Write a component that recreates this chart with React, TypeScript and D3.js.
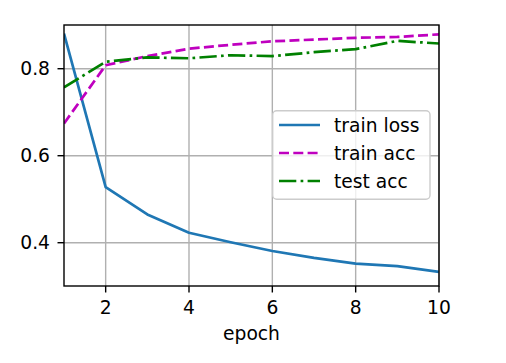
import React from "react";
import * as d3 from "d3";

const epochs = [1, 2, 3, 4, 5, 6, 7, 8, 9, 10];
const trainLoss = [0.881, 0.528, 0.465, 0.423, 0.401, 0.381, 0.365, 0.352, 0.346, 0.333];
const trainAcc = [0.674, 0.808, 0.829, 0.846, 0.855, 0.863, 0.867, 0.871, 0.873, 0.879];
const testAcc = [0.757, 0.816, 0.826, 0.824, 0.831, 0.829, 0.838, 0.845, 0.864, 0.858];
const xTicks = [2, 4, 6, 8, 10];
const yTicks = [0.4, 0.6, 0.8];
const seriesNames = ["train loss", "train acc", "test acc"];

const W = 506, H = 363;
const L = 64, R = 439, T = 25, B = 286;
const FONT = "DejaVu Sans, sans-serif";
const FS = 18.7;

export default function App() {
  const x = d3.scaleLinear().domain([1, 10]).range([L, R]);
  const y = d3.scaleLinear().domain([0.3005, 0.9005]).range([B, T]);
  const line = d3.line<number>().x((_, i) => x(epochs[i])).y((d) => y(d));
  const series = [
    { name: seriesNames[0], data: trainLoss, color: "#1f77b4", dash: undefined as string | undefined },
    { name: seriesNames[1], data: trainAcc, color: "#bf00bf", dash: "10,4.3" },
    { name: seriesNames[2], data: testAcc, color: "#008000", dash: "17.3,4.3,2.7,4.3" },
  ];
  const lw = 2.7;
  return (
    <svg width={W} height={H} style={{ position: "absolute", left: 0, top: 0, background: "#fff" }} fontFamily={FONT}>
      <defs>
        <clipPath id="clip">
          <rect x={L} y={T} width={R - L} height={B - T} />
        </clipPath>
      </defs>
      <rect x={0} y={0} width={W} height={H} fill="#fff" />
      {xTicks.map((t) => (
        <line key={"gx" + t} x1={x(t)} x2={x(t)} y1={T} y2={B} stroke="#b0b0b0" strokeWidth={1.4} />
      ))}
      {yTicks.map((t) => (
        <line key={"gy" + t} x1={L} x2={R} y1={y(t)} y2={y(t)} stroke="#b0b0b0" strokeWidth={1.4} />
      ))}
      <g clipPath="url(#clip)">
        {series.map((s) => (
          <path key={s.name} d={line(s.data) || ""} fill="none" stroke={s.color} strokeWidth={lw} strokeDasharray={s.dash} strokeLinejoin="round" />
        ))}
      </g>
      <rect x={L} y={T} width={R - L} height={B - T} fill="none" stroke="#000" strokeWidth={1.4} />
      {xTicks.map((t) => (
        <g key={"tx" + t}>
          <line x1={x(t)} x2={x(t)} y1={B} y2={B + 6.5} stroke="#000" strokeWidth={1.4} />
          <text x={x(t)} y={314} textAnchor="middle" fontSize={FS} fill="#000">{t}</text>
        </g>
      ))}
      {yTicks.map((t) => (
        <g key={"ty" + t}>
          <line x1={L - 6.5} x2={L} y1={y(t)} y2={y(t)} stroke="#000" strokeWidth={1.4} />
          <text x={50} y={y(t)} dy="0.35em" textAnchor="end" fontSize={FS} fill="#000">{t.toFixed(1)}</text>
        </g>
      ))}
      <text x={(L + R) / 2} y={340} textAnchor="middle" fontSize={FS} fill="#000">epoch</text>
      <rect x={272.7} y={110.7} width={157.3} height={88.6} rx={4} ry={4} fill="#fff" fillOpacity={0.8} stroke="#cccccc" strokeWidth={1.4} />
      {series.map((s, i) => {
        const ry = 125 + i * 28;
        return (
          <g key={"lg" + s.name}>
            <line x1={279} x2={320} y1={ry} y2={ry} stroke={s.color} strokeWidth={lw} strokeDasharray={s.dash} />
            <text x={334} y={ry} dy="0.35em" fontSize={FS} fill="#000">{s.name}</text>
          </g>
        );
      })}
    </svg>
  );
}
